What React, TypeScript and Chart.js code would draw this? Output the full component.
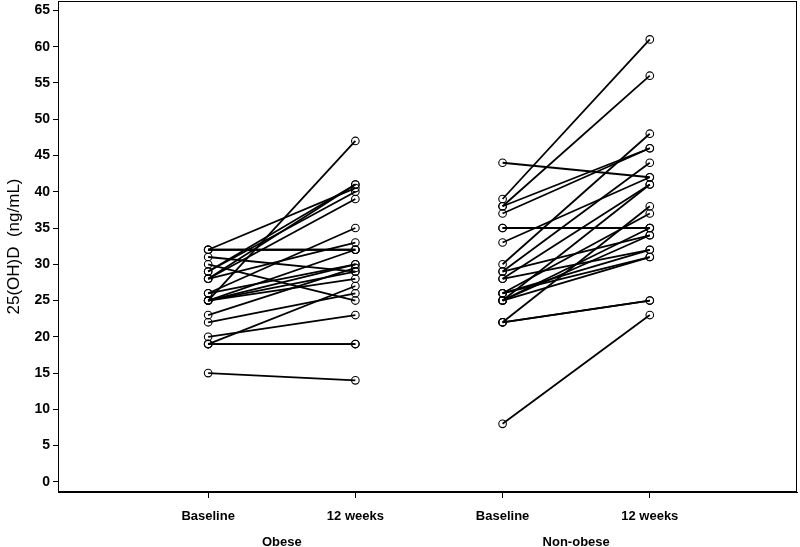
import React, { useEffect, useRef } from "react";
import { Chart, registerables } from "chart.js";

Chart.register(...registerables);

// Tick labels
const timeLabels = ["Baseline", "12 weeks", "Baseline", "12 weeks"];
const groupLabels = ["Obese", "Non-obese"];
const yTicks = [0, 5, 10, 15, 20, 25, 30, 35, 40, 45, 50, 55, 60, 65];

// Obese group: paired values (baseline -> 12 weeks), one entry per subject
const obeseBaseline = [32, 32, 32, 31, 30, 29, 29, 28, 28, 28, 26, 26, 25, 25, 25, 25, 25, 23, 22, 20, 19, 19, 19, 15];
const obeseWeek12 = [32, 32, 40.5, 29, 25, 41, 40, 41, 39, 33, 35, 30, 47, 32, 30, 29, 28, 29.5, 26, 23, 27, 19, 19, 14];

// Non-obese group
const nonObeseBaseline = [44, 39, 38, 38, 37, 35, 35, 33, 30, 29, 28, 29, 28, 26, 25, 26, 25, 25, 22, 22, 22, 8, 26, 25];
const nonObeseWeek12 = [42, 61, 56, 46, 46, 35, 35, 42, 48, 44, 41, 34, 32, 31, 31, 32, 34, 41, 25, 25, 38, 23, 37, 35];

const frame = {
  id: "frame",
  afterDraw(chart: any) {
    const { ctx, chartArea } = chart;
    ctx.save();
    ctx.strokeStyle = "#000";
    ctx.lineWidth = 1;
    ctx.strokeRect(
      Math.round(chartArea.left) + 0.5,
      Math.round(chartArea.top) + 0.5,
      Math.round(chartArea.right - chartArea.left) - 1,
      Math.round(chartArea.bottom - chartArea.top) - 1
    );
    ctx.restore();
  },
};

function subjectSets(base: number[], wk: number[], x0: number) {
  return base.map((b, i) => ({
    data: [
      { x: x0, y: b },
      { x: x0 + 1, y: wk[i] },
    ],
    showLine: true,
    borderColor: "#000",
    borderWidth: 1.8,
    pointRadius: 3.8,
    pointBorderWidth: 1.1,
    pointBorderColor: "#000",
    pointBackgroundColor: "rgba(255,255,255,0)",
  }));
}

export default function App() {
  const ref = useRef<HTMLCanvasElement>(null);
  useEffect(() => {
    if (!ref.current) return;
    const xMin = -1.02;
    const xMax = 4.0;
    const chart = new Chart(ref.current, {
      type: "scatter",
      data: {
        datasets: [
          ...subjectSets(obeseBaseline, obeseWeek12, 0),
          ...subjectSets(nonObeseBaseline, nonObeseWeek12, 2),
        ] as any,
      },
      options: {
        animation: false,
        responsive: false,
        layout: { autoPadding: false, padding: { top: 1, right: 3, left: 0, bottom: 0 } },
        plugins: { legend: { display: false }, tooltip: { enabled: false } },
        scales: {
          x: {
            type: "linear",
            position: "bottom",
            min: xMin,
            max: xMax,
            afterBuildTicks: (a: any) => {
              a.ticks = [0, 1, 2, 3].map((v) => ({ value: v }));
            },
            afterFit: (s: any) => {
              s.height = 36;
              s.paddingLeft = 0;
              s.paddingRight = 0;
            },
            ticks: {
              autoSkip: false,
              maxRotation: 0,
              padding: 11,
              color: "#000",
              font: { family: "Liberation Sans, Arial", size: 13, weight: "bold" },
              callback: (_v: any, i: number) => timeLabels[i],
            },
            grid: { drawOnChartArea: false, drawTicks: true, tickLength: 6, color: "#000" },
            border: { color: "#000" },
          },
          x2: {
            type: "linear",
            position: "bottom",
            min: xMin,
            max: xMax,
            afterBuildTicks: (a: any) => {
              a.ticks = [0.5, 2.5].map((v) => ({ value: v }));
            },
            afterFit: (s: any) => {
              s.height = 19;
              s.paddingLeft = 0;
              s.paddingRight = 0;
            },
            ticks: {
              autoSkip: false,
              maxRotation: 0,
              padding: 7,
              color: "#000",
              font: { family: "Liberation Sans, Arial", size: 13, weight: "bold" },
              callback: (_v: any, i: number) => groupLabels[i],
            },
            grid: { display: false, drawTicks: false },
            border: { display: false },
          },
          y: {
            type: "linear",
            min: -1.4,
            max: 66.3,
            afterBuildTicks: (a: any) => {
              a.ticks = yTicks.map((v) => ({ value: v }));
            },
            afterFit: (s: any) => {
              s.width = 58;
              s.paddingTop = 0;
              s.paddingBottom = 0;
            },
            ticks: {
              padding: 3,
              color: "#000",
              font: { family: "Liberation Sans, Arial", size: 14, weight: "bold" },
            },
            grid: { drawOnChartArea: false, drawTicks: true, tickLength: 5, color: "#000" },
            border: { color: "#000" },
            title: {
              display: true,
              text: "25(OH)D  (ng/mL)",
              color: "#000",
              font: { family: "Liberation Sans, Arial", size: 17 },
              padding: { top: 4, bottom: 0 },
            },
          },
        },
      } as any,
      plugins: [frame],
    });
    return () => chart.destroy();
  }, []);
  return (
    <div style={{ position: "fixed", left: 0, top: 0, width: 800, height: 547, background: "#fff" }}>
      <canvas ref={ref} width={800} height={547} />
    </div>
  );
}
